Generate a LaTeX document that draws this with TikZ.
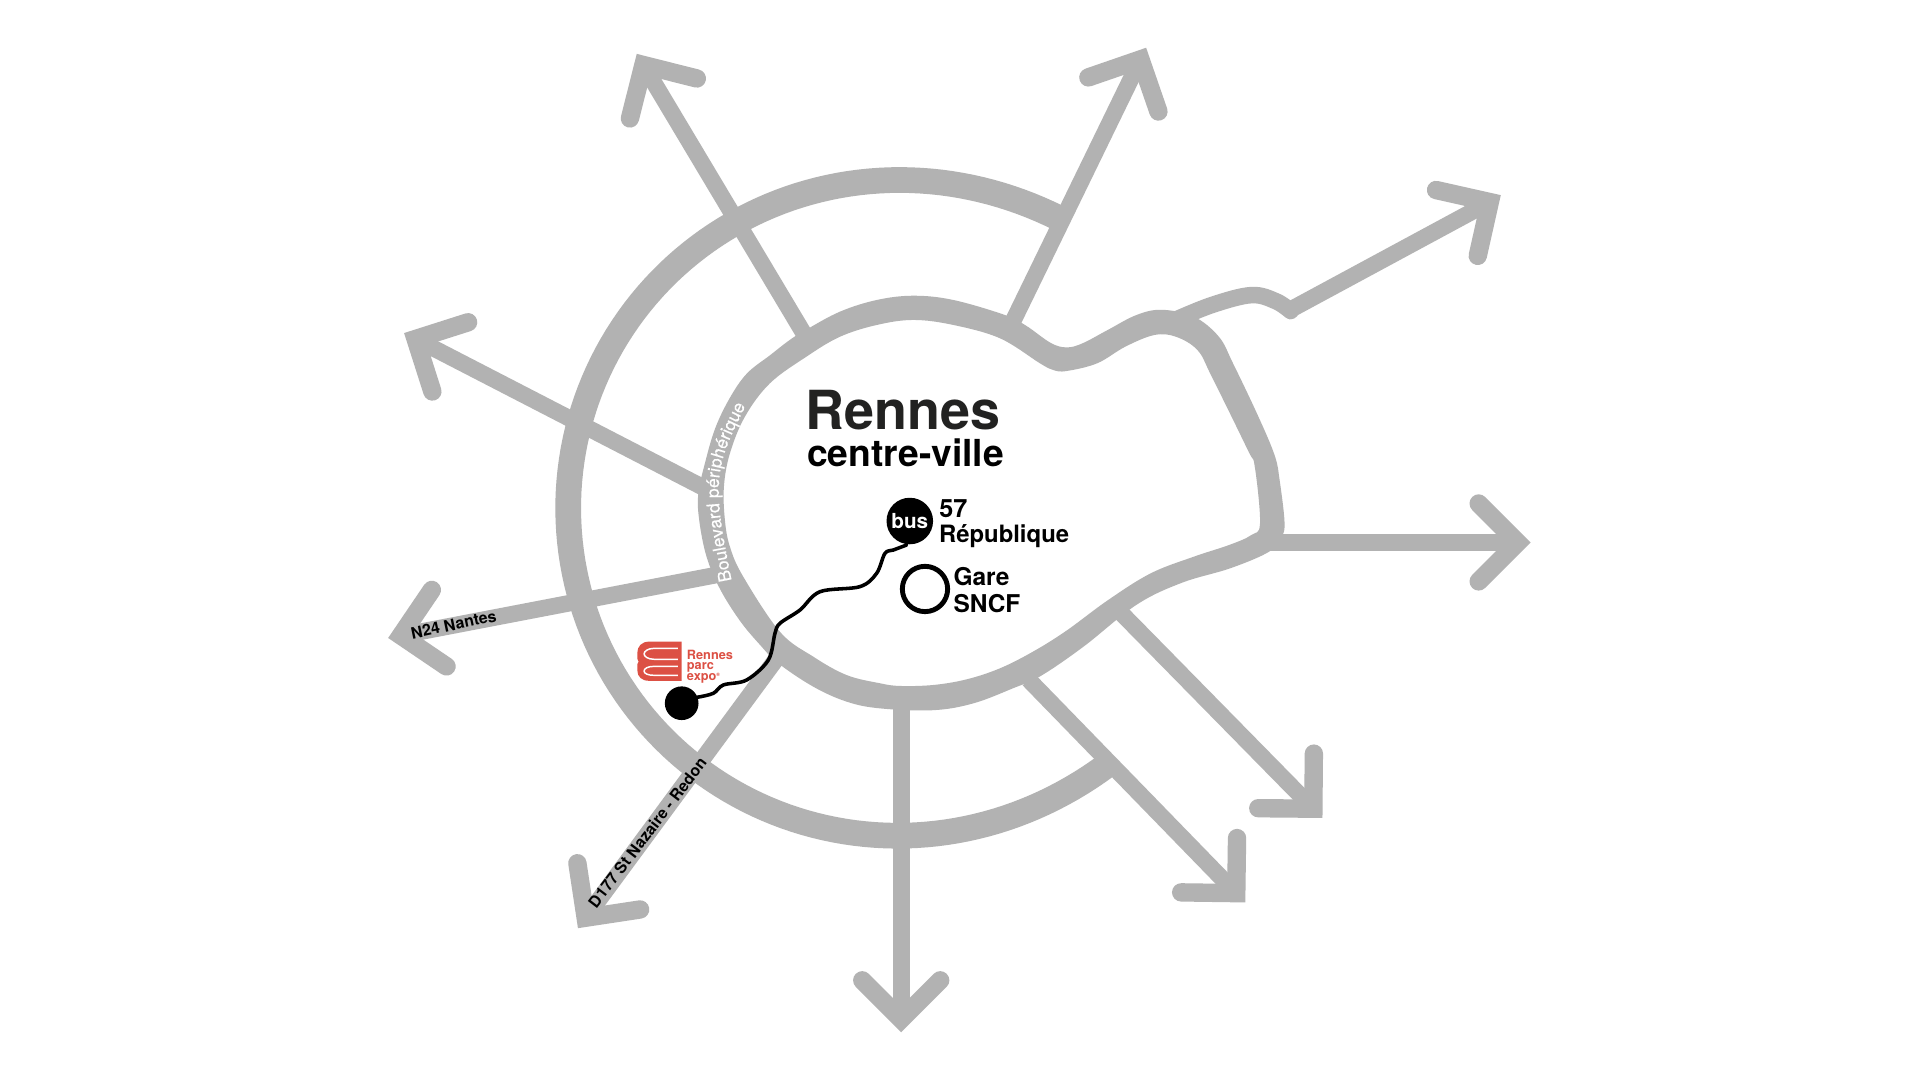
\documentclass[tikz,border=0pt]{standalone}
\usepackage{fontspec}
\setmainfont{TeX Gyre Heros}
\usetikzlibrary{calc,decorations.text}
\definecolor{roadgray}{HTML}{B2B2B2}
\definecolor{expored}{HTML}{DC5044}
\definecolor{titledark}{HTML}{222221}
\tikzset{
  roadline/.style={draw=roadgray,line width=13.5pt,line cap=butt},
  roadhead/.style={draw=roadgray,line width=15pt,line cap=round,line join=miter,miter limit=10},
  roadfill/.style={fill=roadgray,even odd rule},
  ringroad/.style={draw=roadgray,line width=21pt,line cap=butt,line join=round},
  lbl/.style={anchor=base west,inner sep=0pt,font=\bfseries\fontsize{20}{20}\selectfont,text=black},
  roadlbl/.style={anchor=base west,inner sep=0pt,font=\bfseries\fontsize{13}{13}\selectfont,text=black},
  explbl/.style={anchor=base west,inner sep=0pt,font=\bfseries\fontsize{10.4}{10.4}\selectfont,text=expored},
  logoline/.style={draw=white,line width=1.2pt,line cap=butt}
}
\newcommand\roadarrow[4][0]{%
  \coordinate (s#4) at (#2);
  \coordinate (t#4) at (#3);
  \coordinate (a#4) at ($(t#4)!10.6pt!(s#4)$);
  \draw[roadline] (s#4) -- (a#4);
  \draw[roadhead] ($(a#4)!45pt!45+#1:(s#4)$) -- (a#4) -- ($(a#4)!45pt!-45+#1:(s#4)$);
}
\begin{document}
\begin{tikzpicture}[x=1pt,y=-1pt]
\useasboundingbox (0,0) rectangle (1568,882);
\fill[white] (0,0) rectangle (1568,882);
% outer ring
\draw[ringroad] plot[domain=60.5:309.5,samples=140] ({731+(267+5*pow(abs(\x-185)/124.5,6))*cos(\x)},{415-(267+5*pow(abs(\x-185)/124.5,6))*sin(\x)});
% arrows
\roadarrow{658,275}{520,44}{n1}
\roadarrow{826,265}{936,39}{n2}
\roadarrow[4]{1050,255}{1226,160}{n3}
\roadarrow{1035,443}{1250,443}{n4}
\roadarrow{915,500}{1080,668}{n5}
\roadarrow{840,555}{1017,737}{n6}
\roadarrow{736,570}{736,843}{n7}
\roadarrow{640,530}{472,758}{n8}
\roadarrow{588,469}{317,521}{n9}
\roadarrow{578,400}{330,272}{n10}
% branch to the north-east arrow
\draw[draw=roadgray,line width=13.5pt,line cap=round] plot[smooth,tension=0.6] coordinates {(958,262) (990,249) (1022,241) (1042,246) (1054,254)};
% inner boulevard
\path[roadfill]
 plot[smooth cycle,tension=0.6] coordinates {(570.3,403) (575.7,378.3) (584,350) (596,325) (610,305) (629,290) (645,277.6) (658,269.5) (686,254.5) (716,245) (746,241.5) (778.6,245) (820.8,257.3) (838,266) (858,280) (871,283.7) (884,280.4) (904.6,269.5) (928,257.3) (948.6,253) (975,258.6) (995.4,275) (1007,296.8) (1027.7,340.3) (1041,372) (1045,392) (1049,426) (1046.7,438.3) (1036.5,450.5) (1005,464) (965,476) (928,494) (885,528) (850,552) (827.5,562) (794.9,574.4) (762,580) (718.6,578.5) (691.4,573) (664.2,560.8) (635.6,541.7) (621,527) (604.3,507) (588,481) (577,454.6) (571,424.7)}
 plot[smooth cycle,tension=0.6] coordinates {(591.2,397.4) (596.1,370.2) (608.4,340.2) (628.8,313) (658.7,291.2) (686,275) (716,265.4) (746,261.3) (778.6,265.4) (816.7,276.3) (849.3,296.7) (860.2,302.2) (871,303) (896,296.7) (919.2,283) (942.7,273.6) (960.3,275) (978,286) (989.6,307.6) (1019,367.5) (1024.7,381) (1029,427.4) (1021.8,437) (1004,445) (975,454.6) (939.8,468.2) (905,490) (871,515) (843.9,532) (816.6,545.8) (789.4,554.8) (762.2,559.4) (735,560.2) (718.6,558) (691.4,551.3) (664.2,536.3) (637,516) (607,471) (596.1,446.5) (592,424.7)};
% boulevard label
\path[decorate,decoration={text along path,text format delimiters={|}{|},text={|\color{white}\fontsize{14.3}{14.3}\selectfont\addfontfeature{FakeBold=0.5}|Boulevard périphérique}}]
 (597.5,474.2) .. controls (592,445) and (585,415) .. (587.5,390) .. controls (589.5,368) and (600,350) .. (612,325);
% titles
\node[anchor=base west,inner sep=0pt,text=titledark,font=\bfseries\fontsize{44}{44}\selectfont] (title) at (657.5,350.6) {Rennes};
\node[anchor=base west,inner sep=0pt,text=black,font=\bfseries\fontsize{30.4}{30.4}\selectfont] (subtitle) at (659,381) {centre-ville};
% route
\node[circle,fill=black,minimum size=38pt,inner sep=0pt,text=white,font=\bfseries\fontsize{16.9}{16.9}\selectfont] (bus) at (743,425.5) {bus};
\node[circle,fill=black,minimum size=27.5pt,inner sep=0pt] (dot) at (556.7,574.3) {};
\draw[black,line width=2.9pt,line cap=round] plot[smooth,tension=0.55] coordinates {(560,570) (569,569.5) (582.5,566.2) (590.7,559.4) (609.8,555.3) (627.5,539) (632.9,517.2) (637,509) (653.3,498.2) (669.7,483.2) (702.3,479.1) (715.9,468.2) (722.7,451.9) (729.5,449.2) (740.4,445.1)};
\node[circle,draw=black,line width=4pt,fill=white,minimum size=37pt,inner sep=0pt] (gare) at (755.4,481) {};
\node[lbl,font=\bfseries\fontsize{20.6}{20.6}\selectfont] (l57) at (767,423) {57};
\node[lbl,font=\bfseries\fontsize{19.5}{19.5}\selectfont] (rep) at (766.7,443) {République};
\node[lbl] (ga) at (778.5,478) {Gare};
\node[lbl] (sncf) at (778.5,500.4) {SNCF};
% road labels
\node[roadlbl,rotate=11.9] (n24) at (336.5,522) {N24 Nantes};
\node[roadlbl,rotate=52.7] (d177) at (487,742.6) {D177 St Nazaire - Redon};
% logo
\fill[expored] (556.7,524) -- (530,524) .. controls (524,524) and (520.5,528) .. (520.5,533) -- (520.5,538) -- (521.5,540.3) -- (520.5,542.5) -- (520.5,547.5) .. controls (520.5,552.5) and (524,556) .. (530,556) -- (556.7,556) -- cycle;
\draw[logoline] (553.5,529.5) -- (534,529.5) .. controls (529,529.5) and (526,532) .. (526,534) .. controls (526,536) and (529,538.4) .. (534,538.4) -- (553.5,538.4);
\draw[logoline] (553.5,544.2) -- (534,544.2) .. controls (529,544.2) and (526,546) .. (526,548) .. controls (526,550) and (529,551.5) .. (534,551.5) -- (553.5,551.5);
\node[explbl] (e1) at (560.8,538.2) {Rennes};
\node[explbl] (e2) at (560.8,546.8) {parc};
\node[explbl] (e3) at (560.8,555.4) {expo\raisebox{2.6pt}{\fontsize{4}{4}\selectfont ®}};
\end{tikzpicture}
\end{document}
